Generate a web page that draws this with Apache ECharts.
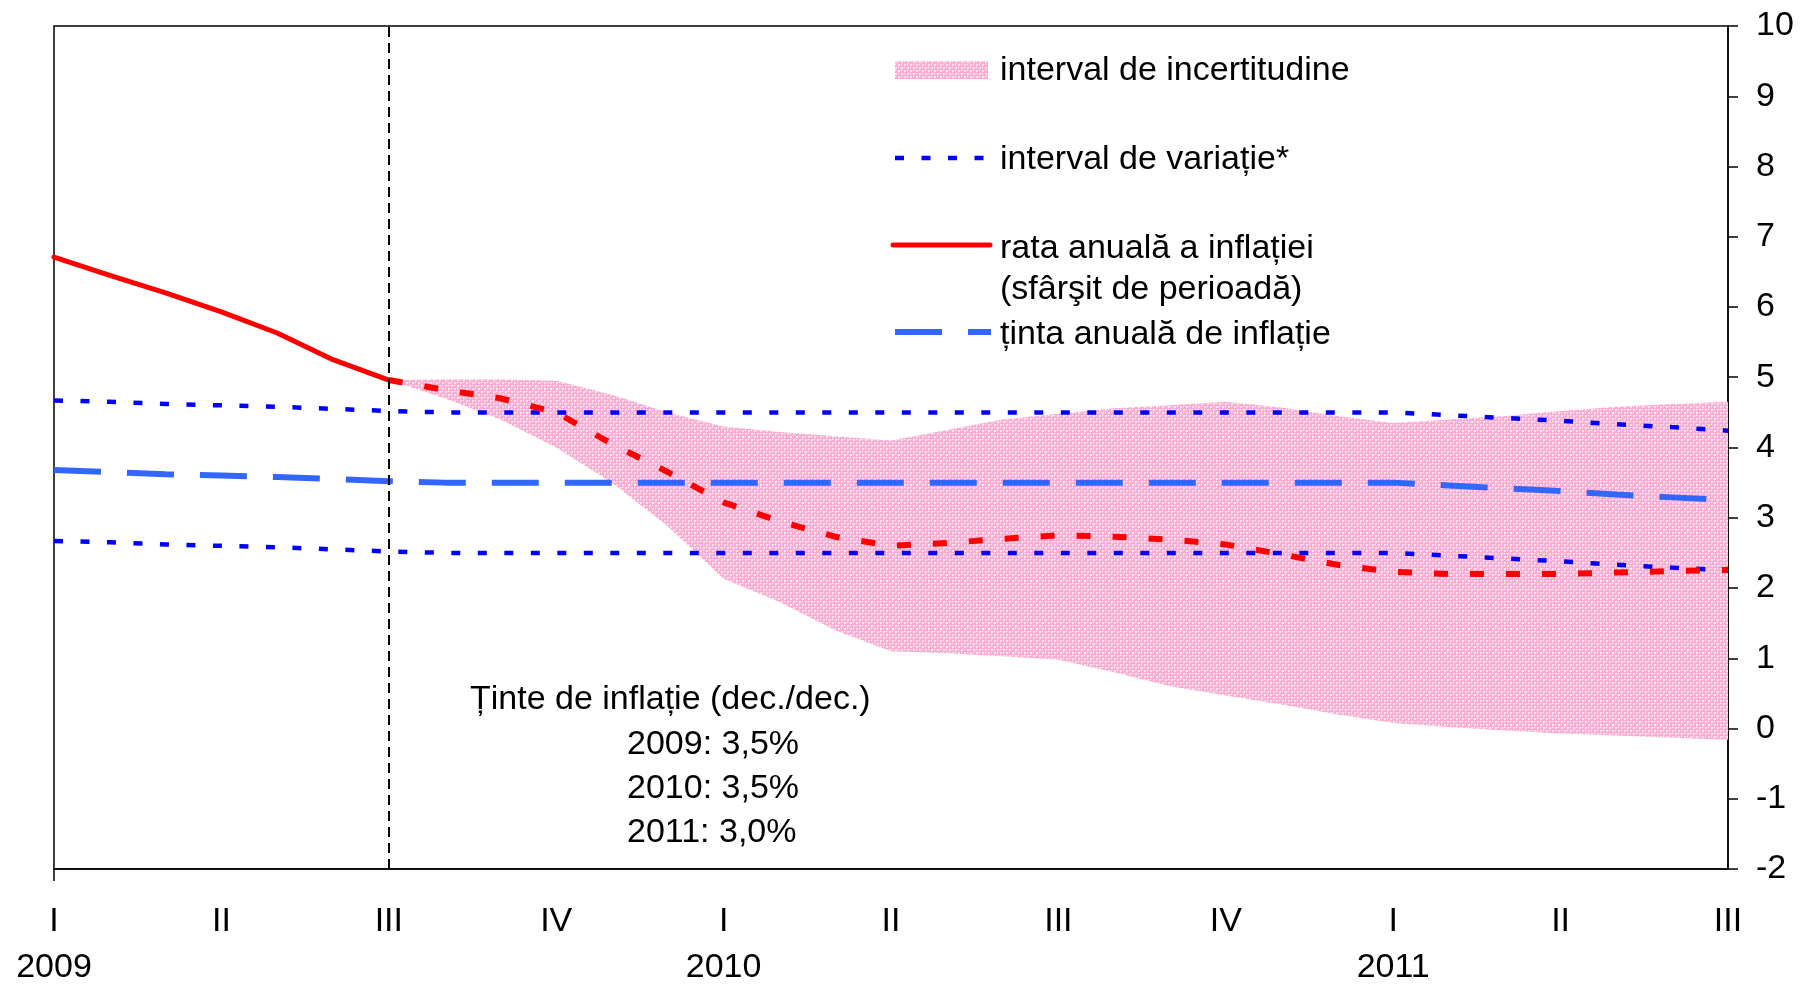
<!DOCTYPE html>
<html>
<head>
<meta charset="UTF-8">
<title>Prognoza inflatiei</title>
<script src="https://cdn.jsdelivr.net/npm/echarts@6/dist/echarts.min.js"></script>
<style>
  html, body { margin: 0; padding: 0; background: #fff; }
  #chart { width: 1802px; height: 985px; }
</style>
</head>
<body>
<div id="chart"></div>
<script type="text/javascript">
  // axis labels
  var quarters = ['I', 'II', 'III', 'IV', 'I', 'II', 'III', 'IV', 'I', 'II', 'III'];
  var yearAt = { 0: '2009', 12: '2010', 24: '2011' };

  // monthly values, 31 months (m0 .. m30)
  var target = [3.68, 3.65, 3.62, 3.6, 3.58, 3.55, 3.52,
    3.5, 3.5, 3.5, 3.5, 3.5, 3.5, 3.5, 3.5, 3.5, 3.5, 3.5, 3.5, 3.5, 3.5, 3.5, 3.5, 3.5, 3.5,
    3.46, 3.42, 3.38, 3.33, 3.29, 3.25];
  var varUpper = [4.67, 4.65, 4.62, 4.6, 4.58, 4.55, 4.52,
    4.5, 4.5, 4.5, 4.5, 4.5, 4.5, 4.5, 4.5, 4.5, 4.5, 4.5, 4.5, 4.5, 4.5, 4.5, 4.5, 4.5, 4.5,
    4.46, 4.42, 4.38, 4.33, 4.29, 4.24];
  var varLower = [2.67, 2.65, 2.62, 2.6, 2.58, 2.55, 2.52,
    2.5, 2.5, 2.5, 2.5, 2.5, 2.5, 2.5, 2.5, 2.5, 2.5, 2.5, 2.5, 2.5, 2.5, 2.5, 2.5, 2.5, 2.5,
    2.46, 2.42, 2.38, 2.33, 2.29, 2.25];
  var actual = [6.71, 6.45, 6.2, 5.93, 5.63, 5.25, 4.96,
    null, null, null, null, null, null, null, null, null, null, null, null,
    null, null, null, null, null, null, null, null, null, null, null, null];
  var forecast = [null, null, null, null, null, null,
    4.96, 4.82, 4.7, 4.5, 4.05, 3.65, 3.22, 2.95, 2.73, 2.6, 2.64, 2.7, 2.75,
    2.73, 2.69, 2.62, 2.48, 2.33, 2.23, 2.2, 2.2, 2.2, 2.22, 2.24, 2.26];
  var bandUpper = [null, null, null, null, null, null,
    4.96, 4.97, 4.97, 4.95, 4.75, 4.5, 4.3, 4.22, 4.16, 4.1, 4.25, 4.4, 4.48,
    4.56, 4.6, 4.65, 4.57, 4.45, 4.35, 4.4, 4.45, 4.52, 4.58, 4.62, 4.65];
  var bandLower = [null, null, null, null, null, null,
    4.96, 4.7, 4.4, 4.0, 3.5, 2.88, 2.13, 1.8, 1.4, 1.1, 1.07, 1.03, 0.98,
    0.8, 0.6, 0.47, 0.34, 0.2, 0.08, 0.02, -0.03, -0.07, -0.1, -0.13, -0.16];

  var months = [];
  for (var i = 0; i < target.length; i++) months.push('m' + i);

  var bandWidth = bandUpper.map(function (v, i) {
    return v == null ? null : +(v - bandLower[i]).toFixed(2);
  });

  // pink cross-hatch
  var hatch = document.createElement('canvas');
  hatch.width = 6; hatch.height = 6;
  var hc = hatch.getContext('2d');
  hc.fillStyle = '#fbaed1';
  hc.fillRect(0, 0, 6, 6);
  hc.fillStyle = '#fee4f0';
  hc.fillRect(1, 1, 2, 2);
  hc.fillRect(4, 4, 2, 2);
  hc.fillStyle = '#ffffff';
  hc.fillRect(1, 4, 1, 1);
  hc.fillRect(4, 1, 1, 1);
  var hatchFill = { image: hatch, repeat: 'repeat' };

  var font = "'Liberation Sans', Arial, sans-serif";
  var lx = 895, tx = 1000;

  function label(x, y, s) {
    return {
      type: 'text', x: x, y: y,
      style: { text: s, font: '34px ' + font, fill: '#000', verticalAlign: 'middle' }
    };
  }

  var myChart = echarts.init(document.getElementById('chart'));
  var option = {
    animation: false,
    backgroundColor: '#fff',
    textStyle: { fontFamily: font },
    grid: {
      left: 54, right: 74, top: 26, bottom: 107,
      show: true, borderColor: '#000', borderWidth: 1.5
    },
    xAxis: {
      type: 'category',
      data: months,
      boundaryGap: false,
      axisLine: { onZero: false, lineStyle: { color: '#000', width: 1.5 } },
      axisTick: {
        show: true, length: 12,
        interval: function (idx) { return idx === 0; },
        lineStyle: { color: '#000', width: 1.5 }
      },
      splitLine: { show: false },
      axisLabel: {
        interval: 2,
        margin: 30,
        formatter: function (v, idx) {
          var q = quarters[Math.round(idx / 3)];
          var y = yearAt[idx] || ' ';
          return '{q|' + q + '}\n{y|' + y + '}';
        },
        rich: {
          q: { fontSize: 34, color: '#000', fontFamily: font, lineHeight: 46 },
          y: { fontSize: 34, color: '#000', fontFamily: font, lineHeight: 46 }
        }
      }
    },
    yAxis: {
      type: 'value',
      position: 'right',
      min: -2, max: 10, interval: 1,
      axisLine: { show: true, lineStyle: { color: '#000', width: 1.5 } },
      axisTick: { show: true, length: 10, lineStyle: { color: '#000', width: 1.5 } },
      splitLine: { show: false },
      axisLabel: { fontSize: 34, color: '#000', margin: 28, fontFamily: font }
    },
    graphic: [
      { type: 'rect', shape: { x: lx, y: 61, width: 93, height: 18 }, style: { fill: hatchFill } },
      label(tx, 71, 'interval de incertitudine'),
      { type: 'line', shape: { x1: lx, y1: 158, x2: 990, y2: 158 }, style: { stroke: '#0000ff', lineWidth: 4.5, lineDash: [9, 17.5] } },
      label(tx, 160, 'interval de variație*'),
      { type: 'line', shape: { x1: 893, y1: 245, x2: 990, y2: 245 }, style: { stroke: '#ff0000', lineWidth: 5, lineCap: 'round' } },
      label(tx, 249, 'rata anuală a inflației'),
      label(tx, 290, '(sfârşit de perioadă)'),
      { type: 'line', shape: { x1: lx, y1: 332, x2: 991, y2: 332 }, style: { stroke: '#3366ff', lineWidth: 6, lineDash: [47, 26] } },
      label(tx, 335, 'ținta anuală de inflație'),
      label(470, 700, 'Ținte de inflație (dec./dec.)'),
      label(627, 745, '2009: 3,5%'),
      label(627, 789, '2010: 3,5%'),
      label(627, 833, '2011: 3,0%')
    ],
    series: [
      {
        name: 'band base', type: 'line', data: bandLower,
        stack: 'band', stackStrategy: 'all',
        symbol: 'none', lineStyle: { width: 0, opacity: 0 }, z: 1, silent: true
      },
      {
        name: 'interval de incertitudine', type: 'line', data: bandWidth,
        stack: 'band', stackStrategy: 'all',
        symbol: 'none', lineStyle: { width: 0, opacity: 0 },
        areaStyle: { color: hatchFill, opacity: 1 }, z: 1, silent: true
      },
      {
        name: 'interval de variație sus', type: 'line', data: varUpper, symbol: 'none', z: 3,
        lineStyle: { color: '#0000ff', width: 4.5, type: [9, 17.5] }
      },
      {
        name: 'interval de variație jos', type: 'line', data: varLower, symbol: 'none', z: 3,
        lineStyle: { color: '#0000ff', width: 4.5, type: [9, 17.5] }
      },
      {
        name: 'ținta anuală de inflație', type: 'line', data: target, symbol: 'none', z: 3,
        lineStyle: { color: '#3366ff', width: 6, type: [47, 26] }
      },
      {
        name: 'rata anuală a inflației', type: 'line', data: actual, symbol: 'none', z: 4,
        lineStyle: { color: '#ff0000', width: 5, cap: 'round', join: 'round' }
      },
      {
        name: 'prognoza', type: 'line', data: forecast, symbol: 'none', z: 4,
        lineStyle: { color: '#ff0000', width: 6, type: [14, 22] },
        markLine: {
          silent: true, symbol: 'none', label: { show: false },
          lineStyle: { color: '#000', width: 2, type: [10, 6] },
          data: [{ xAxis: 'm6' }]
        }
      }
    ]
  };
  myChart.setOption(option);
</script>
</body>
</html>
